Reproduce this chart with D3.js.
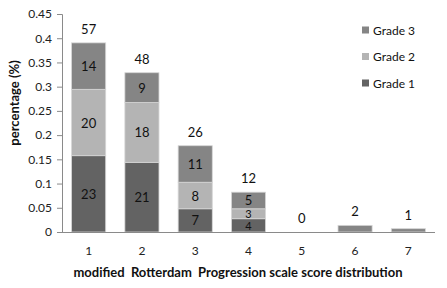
<!DOCTYPE html>
<html>
<head>
<meta charset="utf-8">
<script src="https://cdn.jsdelivr.net/npm/d3@7"></script>
<style>
  body { margin: 0; background: #fff; }
  text { font-family: Lato, "Open Sans", sans-serif; }
</style>
</head>
<body>
<script>
// Data
const scores = ["1", "2", "3", "4", "5", "6", "7"]
const grade1 = [23, 21, 7, 4, 0, 0, 0]
const grade2 = [20, 18, 8, 3, 0, 0, 0]
const grade3 = [14, 9, 11, 5, 0, 2, 1]
const totals = [57, 48, 26, 12, 0, 2, 1]
const yTicks = [0, 0.05, 0.1, 0.15, 0.2, 0.25, 0.3, 0.35, 0.4, 0.45]
const gradeNames = ["Grade 1", "Grade 2", "Grade 3"]
const N = d3.sum(totals)

// Main
let main = () => {
    const width = 447
    const height = 288
    const colors = { "Grade 1": "#636363", "Grade 2": "#b4b4b4", "Grade 3": "#858585" }

    const rows = scores.map((s, i) => ({
        score: s,
        "Grade 1": grade1[i] / N,
        "Grade 2": grade2[i] / N,
        "Grade 3": grade3[i] / N,
        counts: { "Grade 1": grade1[i], "Grade 2": grade2[i], "Grade 3": grade3[i] },
        total: totals[i]
    }))

    let svg = d3.select("body").append("svg")
        .attr("width", width)
        .attr("height", height)

    let xScale = d3.scaleBand()
        .domain(scores)
        .range([62, 435])
        .paddingInner(0.36)
        .paddingOuter(0.18)
    let yScale = d3.scaleLinear()
        .domain([0, 0.45])
        .range([232, 14])

    // Stacked bars
    const stack = d3.stack().keys(gradeNames)(rows)
    let layers = svg.selectAll(".layer")
        .data(stack).enter().append("g")
        .attr("class", "layer")
        .attr("fill", d => colors[d.key])

    layers.selectAll("rect")
        .data(d => d.filter(p => p[1] - p[0] > 0))
        .enter().append("rect")
        .attr("x", d => xScale(d.data.score))
        .attr("y", d => yScale(d[1]))
        .attr("width", xScale.bandwidth())
        .attr("height", d => yScale(d[0]) - yScale(d[1]))
        .attr("stroke", "#d6d6d6")
        .attr("stroke-width", 0.8)

    // Segment labels (smaller font in short segments)
    stack.forEach(layer => {
        svg.selectAll(".seg-" + layer.key.replace(" ", ""))
            .data(layer.filter(p => p.data.counts[layer.key] > 0 && yScale(p[0]) - yScale(p[1]) > 8))
            .enter().append("text")
            .attr("x", d => xScale(d.data.score) + xScale.bandwidth() / 2)
            .attr("y", d => (yScale(d[0]) + yScale(d[1])) / 2)
            .attr("text-anchor", "middle")
            .attr("dominant-baseline", "central")
            .style("font-size", d => (yScale(d[0]) - yScale(d[1]) < 16 ? "11px" : "13px"))
            .style("fill", "#111")
            .text(d => d.data.counts[layer.key])
    })

    // Total labels
    svg.selectAll(".total")
        .data(rows).enter().append("text")
        .attr("class", "total")
        .attr("x", d => xScale(d.score) + xScale.bandwidth() / 2)
        .attr("y", d => Math.min(yScale(d.total / N) - 14, 219))
        .attr("text-anchor", "middle")
        .attr("dominant-baseline", "central")
        .style("font-size", "13px")
        .style("fill", "#111")
        .text(d => d.total)

    // Axes
    let yAxis = svg.append("g")
        .attr("transform", "translate(62, 0)")
        .call(d3.axisLeft(yScale).tickValues(yTicks).tickSize(5).tickFormat(d => d === 0 ? "0" : String(+d.toFixed(2))))
    yAxis.select(".domain").attr("stroke", "#8a8a8a")
    yAxis.selectAll(".tick line").attr("stroke", "#8a8a8a")
    yAxis.selectAll(".tick text")
        .attr("x", -10)
        .style("font-size", "12px")
        .style("font-family", "Lato, sans-serif")
        .style("fill", "#222")

    let xAxis = svg.append("g")
        .attr("transform", "translate(0, 232)")
        .call(d3.axisBottom(xScale).tickSize(0).tickPadding(14))
    xAxis.select(".domain").attr("stroke", "#8a8a8a").attr("d", "M57,0.5H435")
    xAxis.selectAll(".tick text")
        .style("font-size", "12px")
        .style("font-family", "Lato, sans-serif")
        .style("fill", "#222")

    // Axis titles
    svg.append("text")
        .attr("x", 238)
        .attr("y", 277)
        .attr("text-anchor", "middle")
        .attr("xml:space", "preserve")
        .style("white-space", "pre")
        .style("font-size", "13px")
        .style("font-weight", "bold")
        .style("fill", "#111")
        .text("modified  Rotterdam  Progression scale score distribution")

    svg.append("text")
        .attr("transform", "translate(19, 103) rotate(-90)")
        .attr("text-anchor", "middle")
        .style("font-size", "13px")
        .style("font-weight", "bold")
        .style("fill", "#111")
        .text("percentage (%)")

    // Legend
    const legendOrder = ["Grade 3", "Grade 2", "Grade 1"]
    let legend = svg.selectAll(".legend")
        .data(legendOrder).enter().append("g")
        .attr("class", "legend")
        .attr("transform", (d, i) => `translate(362, ${30 + i * 26.5})`)
    legend.append("rect")
        .attr("x", 0).attr("y", -3.5)
        .attr("width", 7).attr("height", 7)
        .attr("fill", d => colors[d])
    legend.append("text")
        .attr("x", 11)
        .attr("y", 0)
        .attr("dominant-baseline", "central")
        .style("font-size", "12px")
        .style("fill", "#111")
        .text(d => d)
}

main()
</script>
</body>
</html>
